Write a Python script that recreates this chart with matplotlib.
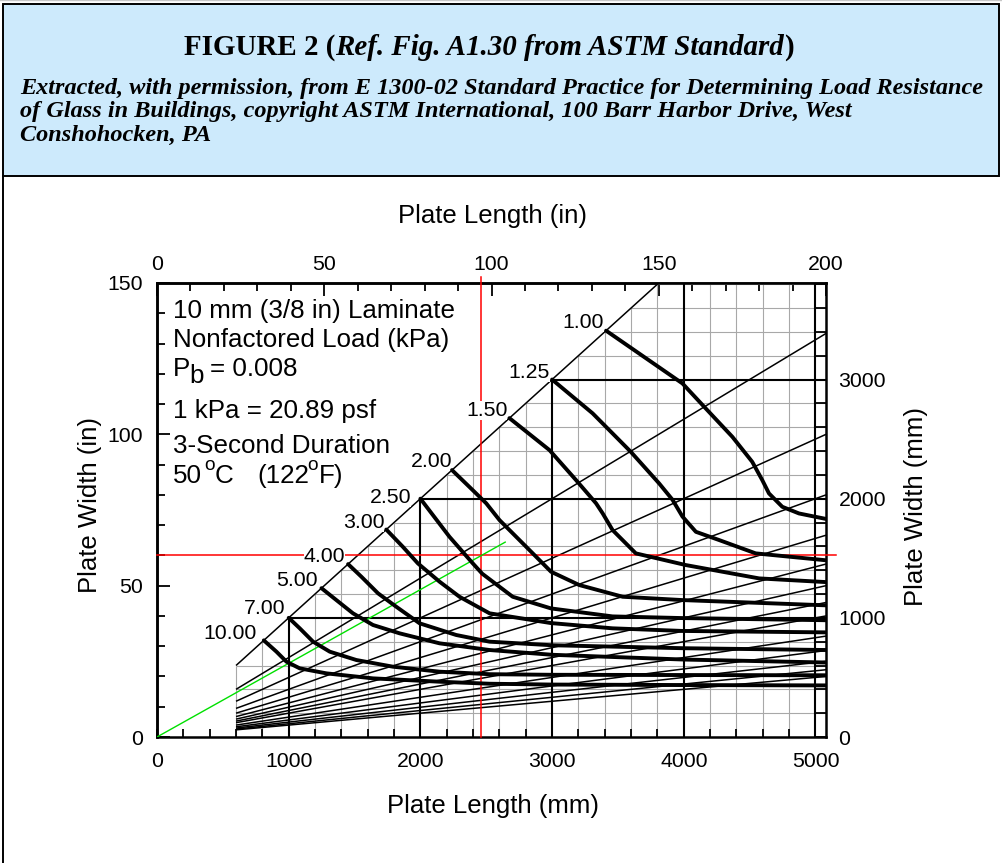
import numpy as np
import matplotlib
matplotlib.use("Agg")
import matplotlib.pyplot as plt
import matplotlib.transforms as mtransforms
from matplotlib.patches import Rectangle
from matplotlib.lines import Line2D
from matplotlib.ticker import MultipleLocator, FixedLocator

# ---------------- data ----------------
MM_PER_IN = 25.4
x_limit_mm = 5080          # 200 in
y_limit_mm = 3810          # 150 in
grid_start_mm = 600
grid_step_mm = 200

x_ticks_mm = [0, 1000, 2000, 3000, 4000, 5000]
y_ticks_mm = [0, 1000, 2000, 3000]
x_ticks_in = [0, 50, 100, 150, 200]
y_ticks_in = [0, 50, 100, 150]

aspect_ratios = [1.0, 1.5, 2.0, 2.5, 3.0, 3.5, 4.0, 4.5, 5.0, 6.0, 7.0, 8.0, 9.0, 10.0]

load_labels = ["1.00", "1.25", "1.50", "2.00", "2.50", "3.00", "4.00", "5.00", "7.00", "10.00"]

nfl_100_len = [3410, 3990, 4167, 4369, 4520, 4596, 4647, 4748, 4875, 5080]
nfl_100_wid = [3410, 2967, 2757, 2519, 2309, 2156, 2044, 1932, 1876, 1830]
nfl_125_len = [3000, 3308, 3459, 3598, 3813, 3915, 3990, 4092, 4268, 4546, 5080]
nfl_125_wid = [3000, 2716, 2548, 2393, 2128, 1990, 1850, 1722, 1653, 1541, 1483]
nfl_150_len = [2676, 2980, 3182, 3334, 3384, 3459, 3636, 4015, 4572, 5080]
nfl_150_wid = [2676, 2408, 2156, 1961, 1877, 1737, 1541, 1443, 1331, 1300]
nfl_200_len = [2240, 2358, 2500, 2601, 2828, 2992, 3207, 3536, 3990, 5080]
nfl_200_wid = [2240, 2114, 1961, 1820, 1569, 1387, 1275, 1177, 1149, 1105]
nfl_250_len = [2000, 2221, 2398, 2470, 2701, 2992, 3459, 3990, 5080]
nfl_250_wid = [2000, 1680, 1457, 1370, 1177, 1079, 1012, 998, 980]
nfl_300_len = [1741, 1867, 1981, 2146, 2297, 2525, 2992, 3459, 3990, 5080]
nfl_300_wid = [1741, 1596, 1457, 1303, 1177, 1038, 956, 912, 890, 878]
nfl_400_len = [1451, 1552, 1678, 1817, 1994, 2272, 2525, 3000, 4000, 5080]
nfl_400_wid = [1451, 1345, 1206, 1093, 954, 856, 800, 770, 745, 730]
nfl_500_len = [1249, 1362, 1488, 1640, 1842, 2146, 2525, 3000, 4000, 5080]
nfl_500_wid = [1249, 1149, 1038, 940, 870, 786, 730, 690, 650, 625]
nfl_700_len = [1000, 1084, 1185, 1312, 1514, 1792, 2146, 2525, 3000, 4000, 5080]
nfl_700_wid = [1000, 912, 800, 716, 646, 590, 548, 527, 522, 520, 518]
nfl_1000_len = [811, 907, 983, 1084, 1287, 1640, 2146, 2525, 3000, 4000, 5080]
nfl_1000_wid = [811, 716, 632, 576, 534, 492, 464, 447, 440, 436, 433]

design_length_mm = 2464    # 97 in
design_width_mm = 1524     # 60 in
ratio_line_end_mm = 2644

info_lines = ["10 mm (3/8 in) Laminate", "Nonfactored Load (kPa)", "P", "b", "= 0.008",
              "1 kPa = 20.89 psf", "3-Second Duration", "50", "o", "C", "(122", "o", "F)"]

title_runs = ["FIGURE 2 (", "Ref. Fig. A1.30 from ASTM Standard", ")"]
subtitle_lines = [
    "Extracted, with permission, from E 1300-02 Standard Practice for Determining Load Resistance",
    "of Glass in Buildings, copyright ASTM International, 100 Barr Harbor Drive, West",
    "Conshohocken, PA",
]

# ---------------- figure ----------------
W, H, DPI = 1002, 863, 100
plt.rcParams['font.family'] = ['Liberation Sans', 'DejaVu Sans']
fig = plt.figure(figsize=(W / DPI, H / DPI), dpi=DPI)
fig.patch.set_facecolor('white')
pix = mtransforms.Affine2D().scale(1.0 / W, -1.0 / H).translate(0, 1) + fig.transFigure
renderer = fig.canvas.get_renderer()

# header box and frame
fig.add_artist(Line2D([0, W], [0.5, 0.5], transform=pix, color='#c8c8c8', lw=1.0))
fig.add_artist(Rectangle((3, 4), 996, 172, transform=pix, facecolor='#cdeafc',
                         edgecolor='black', lw=1.4))
fig.add_artist(Line2D([3.5, 3.5], [176, H], transform=pix, color='black', lw=1.4))

# title (fit width)
serif = ['Liberation Serif', 'DejaVu Serif']
styles = ['normal', 'italic', 'normal']
tt = [fig.text(0, 0, s, transform=pix, fontsize=20, family=serif, weight='bold',
               style=st, ha='left', va='baseline') for s, st in zip(title_runs, styles)]
wsum = sum(t.get_window_extent(renderer).width for t in tt)
for t in tt:
    t.set_fontsize(20 * 610.0 / wsum)
ws = [t.get_window_extent(renderer).width for t in tt]
xpos = 489 - sum(ws) / 2
for t, w in zip(tt, ws):
    t.set_position((xpos, 55))
    xpos += w

# subtitle (fit width of first line)
st0 = fig.text(20, 94, subtitle_lines[0], transform=pix, fontsize=16, family=serif,
               weight='bold', style='italic', ha='left', va='baseline')
w0 = st0.get_window_extent(renderer).width
fs_sub = 16 * 965.0 / w0
st0.set_fontsize(fs_sub)
for i, line in enumerate(subtitle_lines[1:], start=1):
    fig.text(20, 94 + 23.5 * i, line, transform=pix, fontsize=fs_sub, family=serif,
             weight='bold', style='italic', ha='left', va='baseline')

# ---------------- axes ----------------
L, R, T, B = 157, 826, 283, 737
ax = fig.add_axes([L / W, 1 - B / H, (R - L) / W, (B - T) / H])
ax.set_xlim(0, x_limit_mm)
ax.set_ylim(0, y_limit_mm)

GRAY = '#a8a8a8'
# vertical grid
for xv in np.arange(grid_start_mm, x_limit_mm, grid_step_mm):
    top = min(xv, y_limit_mm)
    major = xv % 1000 == 0
    ax.plot([xv, xv], [0, top], color='black' if major else GRAY,
            lw=1.5 if major else 0.8, zorder=2 if major else 1, solid_capstyle='butt')
# horizontal grid
for yv in np.arange(grid_step_mm, y_limit_mm, grid_step_mm):
    start = max(grid_start_mm, yv)
    major = yv % 1000 == 0
    ax.plot([start, x_limit_mm], [yv, yv], color='black' if major else GRAY,
            lw=1.5 if major else 0.8, zorder=2 if major else 1, solid_capstyle='butt')

# aspect ratio lines
for ar in aspect_ratios:
    xe = min(x_limit_mm, y_limit_mm * ar)
    ax.plot([grid_start_mm, xe], [grid_start_mm / ar, xe / ar], color='black', lw=1.1,
            zorder=3, solid_capstyle='butt')

# red & green design lines
ax.plot([design_length_mm, design_length_mm], [0, y_limit_mm + 50], color='red', lw=1.1,
        zorder=3.2, clip_on=False)
ax.plot([0, x_limit_mm + 76], [design_width_mm, design_width_mm], color='red', lw=1.1,
        zorder=3.2, clip_on=False)
ax.plot([0, ratio_line_end_mm], [0, ratio_line_end_mm * design_width_mm / design_length_mm],
        color='#00e000', lw=1.0, zorder=3.3)

# load curves
curves = [
    (nfl_100_len, nfl_100_wid), (nfl_125_len, nfl_125_wid), (nfl_150_len, nfl_150_wid),
    (nfl_200_len, nfl_200_wid), (nfl_250_len, nfl_250_wid), (nfl_300_len, nfl_300_wid),
    (nfl_400_len, nfl_400_wid), (nfl_500_len, nfl_500_wid), (nfl_700_len, nfl_700_wid),
    (nfl_1000_len, nfl_1000_wid),
]
label_offsets = [(-2, 3), (-2, 2), (-2, 2), (0, 3), (-9, -4), (-2, 2), (-3, 2), (-4, 2),
                 (-3, 4), (-7, 1)]
for lab, (xs, ys), off in zip(load_labels, curves, label_offsets):
    ax.plot(xs, ys, color='black', lw=2.8, zorder=4, solid_joinstyle='round',
            solid_capstyle='round')
    ax.annotate(lab, (xs[0], ys[0]), xytext=off, textcoords='offset pixels',
                ha='right', va='baseline', fontsize=15.3, zorder=3.5,
                bbox=dict(facecolor='white', edgecolor='none', pad=0.0))

# ticks: bottom (mm) and right (mm)
ax.xaxis.set_major_locator(FixedLocator(x_ticks_mm))
ax.xaxis.set_minor_locator(MultipleLocator(grid_step_mm))
ax.tick_params(axis='x', which='both', direction='in', length=6, width=1.3,
               top=False, bottom=True, labelsize=15.3, pad=10.5)
ax.yaxis.tick_right()
ax.yaxis.set_major_locator(FixedLocator(y_ticks_mm))
ax.yaxis.set_minor_locator(MultipleLocator(grid_step_mm))
ax.tick_params(axis='y', which='both', direction='in', length=7.5, width=1.3,
               left=False, right=True, labelleft=False, labelright=True,
               labelsize=15.3, pad=9)
for s in ax.spines.values():
    s.set_linewidth(1.8)

to_in = lambda v: np.asarray(v) / MM_PER_IN
to_mm = lambda v: np.asarray(v) * MM_PER_IN
secx = ax.secondary_xaxis('top', functions=(to_in, to_mm))
secx.xaxis.set_major_locator(FixedLocator(x_ticks_in))
secx.xaxis.set_minor_locator(MultipleLocator(10))
secx.tick_params(which='major', direction='in', length=9, width=1.3, labelsize=15.3, pad=6.5)
secx.tick_params(which='minor', direction='in', length=5.5, width=1.3)
secx.spines['top'].set_linewidth(1.8)

secy = ax.secondary_yaxis('left', functions=(to_in, to_mm))
secy.yaxis.set_major_locator(FixedLocator(y_ticks_in))
secy.yaxis.set_minor_locator(MultipleLocator(10))
secy.tick_params(which='major', direction='in', length=9.5, width=1.3, labelsize=15.3, pad=10)
secy.tick_params(which='minor', direction='in', length=5.5, width=1.3)
secy.spines['left'].set_linewidth(1.8)

# axis titles
AX_FS = 18.5
fig.text(493, 223, "Plate Length (in)", transform=pix, fontsize=AX_FS, ha='center', va='baseline')
fig.text(493, 813, "Plate Length (mm)", transform=pix, fontsize=AX_FS, ha='center', va='baseline')
fig.text(90, 505, "Plate Width (in)", transform=pix, fontsize=AX_FS, rotation=90,
         ha='center', va='center')
fig.text(916, 506, "Plate Width (mm)", transform=pix, fontsize=AX_FS, rotation=90,
         ha='center', va='center')

# info block
INFO_FS = 18.7
info_pos = [(173, 318), (173, 347), (173, 376), (189, 383), (210, 376),
            (173, 418), (173, 453), (173, 483), (204, 470), (215, 483), (257, 483),
            (307, 470), (319, 483)]
info_fs = [INFO_FS] * 8 + [13.7, INFO_FS, INFO_FS, 13.7, INFO_FS]
for s, (px_, py_), f in zip(info_lines, info_pos, info_fs):
    fig.text(px_, py_, s, transform=pix, fontsize=f, ha='left', va='baseline', zorder=5)

fig.savefig("out.png", dpi=DPI, facecolor='white')
